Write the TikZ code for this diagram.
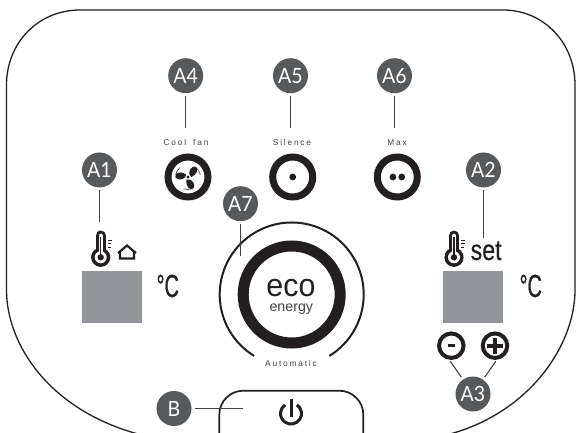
\documentclass[tikz,border=0pt]{standalone}
\usepackage{fontspec}
\setmainfont{Lato}
\newfontfamily\badgefont[FakeStretch=0.93]{Lato}
\newfontfamily\spacedfont[LetterSpace=22]{Liberation Sans}
\newfontfamily\arialfont{Liberation Sans}
\newfontfamily\heavyfont[FakeBold=0.9]{Liberation Sans}
\newfontfamily\midfont[FakeBold=0.35]{Liberation Sans}
\definecolor{badge}{HTML}{58595B}
\definecolor{lcd}{HTML}{92969B}
\definecolor{ink}{HTML}{231F20}
\tikzset{
  badgenode/.style={circle,fill=badge,minimum size=35pt,inner sep=0pt,outer sep=3pt,text=white,font=\badgefont\fontsize{21}{21}\selectfont},
  leader/.style={draw=ink!85,line width=1.1pt},
  outline/.style={draw=ink,line width=1.3pt},
  btnlabel/.style={inner sep=0pt,text=ink!85,font=\spacedfont\fontsize{8.3}{9}\selectfont},
  ringbtn/.style={circle,draw=ink,line width=7pt,fill=white,minimum size=40pt,inner sep=0pt},
  smallbtn/.style={circle,draw=ink,line width=4pt,fill=white,minimum size=24.5pt,inner sep=0pt},
  lcdbox/.style={fill=lcd,draw=none,minimum width=60pt,minimum height=51.7pt,inner sep=0pt},
  degc/.style={inner sep=0pt,text=ink,xscale=.62,font=\heavyfont\fontsize{32}{32}\selectfont},
  thermo/.pic={
    \draw[ink,line width=10.4pt,line cap=round] (0,-21.6) -- (0,0);
    \fill[ink] (0,0) circle[radius=9.6pt];
    \draw[white,line width=4.4pt,line cap=round] (0,-21.6) -- (0,0);
    \fill[white] (0,0) circle[radius=6pt];
    \fill[ink] (0,0) circle[radius=3.2pt];
    \draw[ink,line width=1.4pt] (0,-20) -- (0,0);
    \draw[ink,line width=1.1pt] (7,-17) -- (11,-17) (7,-13.5) -- (10.5,-13.5) (7,-10) -- (10,-10);
  },
  fanblade/.pic={
    \fill[ink] (1.5,-2.5) .. controls (0.5,-6) and (3,-10.5) .. (7,-10.5) .. controls (11.5,-9) and (9,-2) .. (3.2,0) -- cycle;
  }
}
\begin{document}
\begin{tikzpicture}[x=1pt,y=-1pt]
\useasboundingbox (0,0) rectangle (576,433);
\clip (0,0) rectangle (576,433);
\fill[white] (0,0) rectangle (576,433);
% housing
\draw[outline] (138,434) .. controls (50,410) and (6.5,345) .. (6.5,290) -- (6.5,85)
  .. controls (6.5,43) and (38,10) .. (80,10) -- (503,10)
  .. controls (544,10) and (575,43) .. (575,85) -- (575,290)
  .. controls (575,345) and (530,412) .. (450,434);
% badges
\node[badgenode] (A1) at (99.5,170) {A1};
\node[badgenode] (A2) at (483.5,170) {A2};
\node[badgenode] (A3) at (473,394) {A3};
\node[badgenode] (A4) at (185.7,75.7) {A4};
\node[badgenode] (A5) at (290.5,75.7) {A5};
\node[badgenode] (A6) at (394.5,75.7) {A6};
\node[badgenode] (A7) at (240.5,203.7) {A7};
\node[badgenode] (B) at (174,408.5) {B};
% mode buttons
\node[btnlabel] (coolfan) at (186,142.5) {Cool\hspace{3pt} fan};
\node[btnlabel] (silence) at (292,142.5) {Silence};
\node[btnlabel] (maxlabel) at (397,142.5) {Max};
\node[ringbtn] (fan) at (188,177) {};
\node[ringbtn] (sil) at (292.7,177) {};
\node[ringbtn] (mx) at (397.3,177) {};
\fill[ink] (sil) circle[radius=3.4pt];
\fill[ink] ([xshift=-4.4pt]mx.center) circle[radius=3.4pt];
\fill[ink] ([xshift=4.4pt]mx.center) circle[radius=3.4pt];
\begin{scope}[shift={(fan.center)}]
  \pic[rotate=0] {fanblade};
  \pic[rotate=125] {fanblade};
  \pic[rotate=240] {fanblade};
  \fill[ink] (0,0) circle[radius=1.6pt];
  \draw[ink,line width=.5pt] (50:12.5pt) arc[start angle=50,end angle=10,radius=12.5pt];
  \draw[ink,line width=.5pt] (170:12.5pt) arc[start angle=170,end angle=130,radius=12.5pt];
  \draw[ink,line width=.5pt] (290:12.5pt) arc[start angle=290,end angle=250,radius=12.5pt];
\end{scope}
% left display
\pic at (100.7,257.3) {thermo};
\draw[ink,line width=2.2pt,line join=miter] (120,258.5) -- (120,251.5) -- (127,245.5) -- (134,251.5) -- (134,258.5) -- cycle;
\draw[ink,line width=2.2pt] (118,253) -- (120,251.5) (136,253) -- (134,251.5);
\node[lcdbox] (lcdl) at (112,296.8) {};
\node[degc,anchor=base west] (cl) at (156.5,297) {°C};
% right display
\pic at (454,257.3) {thermo};
\node[inner sep=0pt,text=ink,xscale=.8,anchor=base west,font=\midfont\fontsize{29}{29}\selectfont] (setlabel) at (470.5,260) {set};
\node[lcdbox] (lcdr) at (473,296.8) {};
\node[degc,anchor=base west] (cr) at (519.5,297) {°C};
\node[smallbtn] (minus) at (451.3,345.7) {};
\node[smallbtn] (plus) at (495,345.7) {};
\draw[ink,line width=3pt] ([xshift=-3.6pt]minus.center) -- ([xshift=3.6pt]minus.center);
\draw[ink,line width=3.6pt] ([xshift=-8pt]plus.center) -- ([xshift=8pt]plus.center);
\draw[ink,line width=3.6pt] ([yshift=-8pt]plus.center) -- ([yshift=8pt]plus.center);
% eco dial
\coordinate (dial) at (291.7,294.5);
\draw[ink,line width=2pt] ([shift={(-58.5:72pt)}]dial) arc[start angle=-58.5,end angle=238.5,radius=72pt];
\node[circle,draw=ink,line width=11pt,fill=white,minimum size=97pt,inner sep=0pt] (eco) at (dial) {};
\node[inner sep=0pt,text=ink,anchor=base,font=\arialfont\fontsize{32}{32}\selectfont,xscale=.95] (ecotext) at (291,296) {eco};
\node[inner sep=0pt,text=ink!85,anchor=base,font=\arialfont\fontsize{14.2}{15}\selectfont] (energy) at (291.3,311.5) {energy};
\node[btnlabel] (automatic) at (291,363.8) {Automatic};
% power button
\draw[ink,line width=1.7pt,rounded corners=24pt] (219.3,436) -- (219.3,390.7) -- (363.3,390.7) -- (363.3,436);
\coordinate (pw) at (291,413.5);
\draw[ink,line width=3pt] ([shift={(55:10.5pt)}]pw) arc[start angle=55,end angle=-235,radius=10.5pt];
\draw[ink,line width=3pt] (291,399) -- (291,417);
% leaders
\coordinate (e1) at (99.5,222);
\coordinate (e2) at (483.5,237.5);
\coordinate (e4) at (185.7,128);
\coordinate (e5) at (290.5,128);
\coordinate (e6) at (394.5,128);
\coordinate (e7) at (240.5,256);
\coordinate (eb) at (243,408.5);
\coordinate (em) at (450.3,361.3);
\coordinate (ep) at (495.7,361.3);
\draw[leader] (A1) -- (e1);
\draw[leader] (A2) -- (e2);
\draw[leader] (A4) -- (e4);
\draw[leader] (A5) -- (e5);
\draw[leader] (A6) -- (e6);
\draw[leader] (A7) -- (e7);
\draw[leader] (B) -- (eb);
\draw[leader] (A3) -- (em);
\draw[leader] (A3) -- (ep);
\end{tikzpicture}
\end{document}
